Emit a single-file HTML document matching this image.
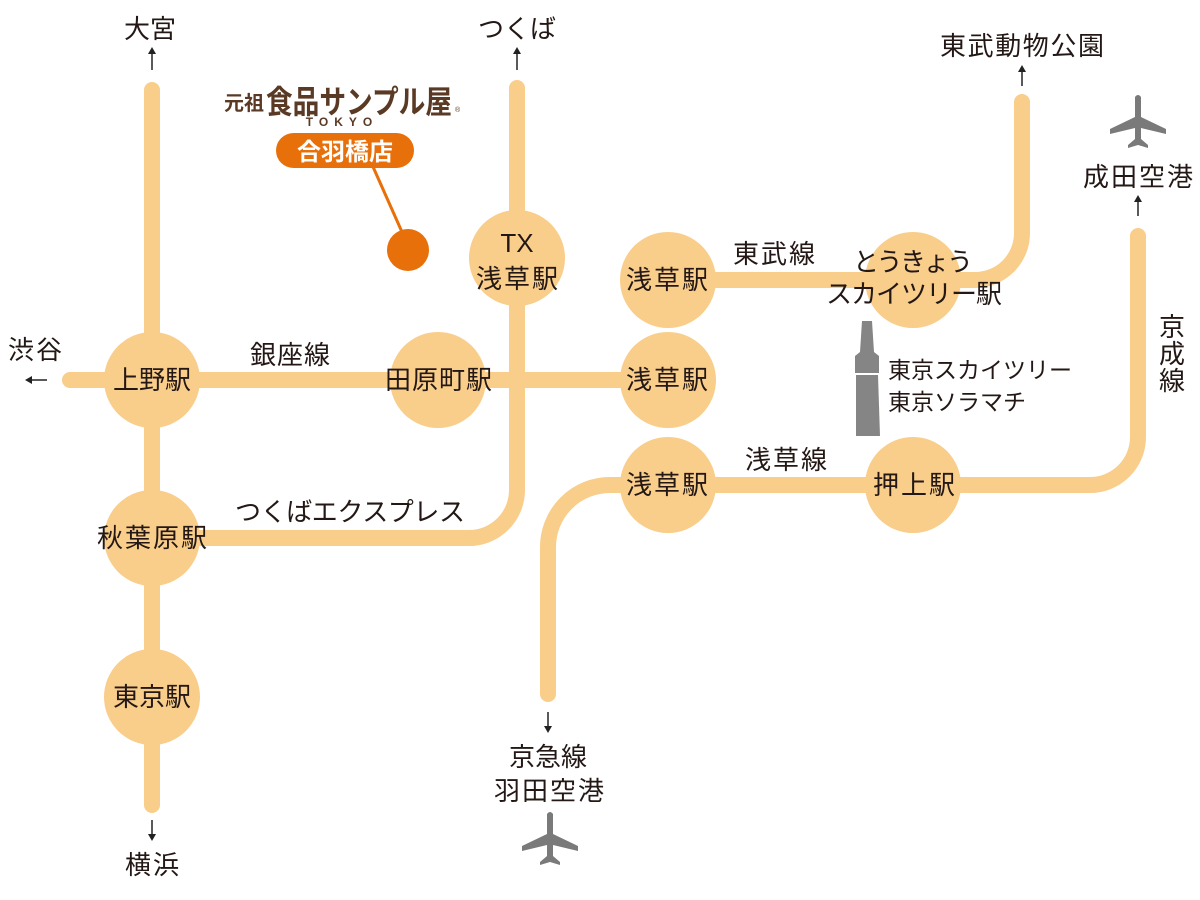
<!DOCTYPE html>
<html><head><meta charset="utf-8"><style>
html,body{margin:0;padding:0;background:#fff;}
svg{display:block;font-family:"Liberation Sans","Noto Sans CJK JP",sans-serif;}
</style></head><body>
<svg width="1200" height="900" viewBox="0 0 1200 900">
<g fill="none" stroke="#f9cd8a" stroke-width="16" stroke-linecap="round">
<line x1="152" y1="90" x2="152" y2="805"/>
<line x1="70" y1="380" x2="668" y2="380"/>
<path d="M517 88 V490 A48 48 0 0 1 469 538 H152"/>
<path d="M668 280 H975 A47 47 0 0 0 1022 233 V102"/>
<path d="M668 485 H1090 A48 48 0 0 0 1138 437 V236"/>
<path d="M668 485 H610 A62 62 0 0 0 548 547 V694"/>
</g>
<g fill="#f9cd8a">
<circle cx="152" cy="380" r="48"/><circle cx="152" cy="538" r="48"/><circle cx="152" cy="697" r="48"/>
<circle cx="438" cy="380" r="48"/><circle cx="517" cy="258" r="48"/>
<circle cx="668" cy="280" r="48"/><circle cx="668" cy="380" r="48"/><circle cx="668" cy="485" r="48"/>
<circle cx="913" cy="280" r="48"/><circle cx="913" cy="485" r="48"/>
</g>
<g stroke="#222" stroke-width="1.5" fill="#222">
<line x1="152" y1="70" x2="152" y2="52"/><path d="M148 54 L152 47 L156 54Z" stroke="none"/>
<line x1="517" y1="70" x2="517" y2="52"/><path d="M513 54 L517 47 L521 54Z" stroke="none"/>
<line x1="1022" y1="86" x2="1022" y2="70"/><path d="M1018 72 L1022 65 L1026 72Z" stroke="none"/>
<line x1="1138" y1="216" x2="1138" y2="200"/><path d="M1134 202 L1138 195 L1142 202Z" stroke="none"/>
<line x1="47" y1="380" x2="30" y2="380"/><path d="M32 376 L25 380 L32 384Z" stroke="none"/>
<line x1="152" y1="820" x2="152" y2="836"/><path d="M148 834 L152 841 L156 834Z" stroke="none"/>
<line x1="548" y1="712" x2="548" y2="728"/><path d="M544 726 L548 733 L552 726Z" stroke="none"/>
</g>
<g fill="#7a7a7a">
<g transform="translate(1138,125)"><path d="M-3 -28 Q0 -32 3 -28 L3 -8 L28 4 L28 9 L3 3 L3 14 L10 20 L10 23 L0 20 L-10 23 L-10 20 L-3 14 L-3 3 L-28 9 L-28 4 L-3 -8Z"/></g>
<g transform="translate(550,842)"><path d="M-3 -28 Q0 -32 3 -28 L3 -8 L28 4 L28 9 L3 3 L3 14 L10 20 L10 23 L0 20 L-10 23 L-10 20 L-3 14 L-3 3 L-28 9 L-28 4 L-3 -8Z"/></g>
</g>
<g fill="#858585">
<path d="M862 321 H872 L874 352 L879 356 L879 373 H855 L855 356 L860 352Z"/>
<path d="M856 375 H878 L880 436 H856Z"/>
</g>
<line x1="370" y1="160" x2="402" y2="232" stroke="#e8700a" stroke-width="3"/>
<circle cx="408" cy="250" r="21" fill="#e8700a"/>
<rect x="276" y="133" width="138" height="35" rx="17.5" fill="#e8700a"/>
<text x="345" y="160" font-size="24" fill="#fff" text-anchor="middle" font-weight="bold">合羽橋店</text>
<text x="224" y="110" font-size="20" fill="#5a3a24" font-weight="bold" textLength="40" lengthAdjust="spacingAndGlyphs">元祖</text>
<text x="266" y="113" font-size="32" fill="#5a3a24" font-weight="bold" textLength="186" lengthAdjust="spacingAndGlyphs">食品サンプル屋</text>
<text x="455" y="112" font-size="7" fill="#5a3a24">®</text>
<text x="342" y="126" font-size="12" fill="#5a3a24" font-weight="bold" text-anchor="middle" letter-spacing="6">TOKYO</text>
<g font-size="26" fill="#231815" text-anchor="middle">
<text x="152" y="389">上野駅</text>
<text x="152" y="706">東京駅</text>
<text x="517" y="252">TX</text>
<text x="548" y="766">京急線</text>
<text x="1172" y="336">京</text>
<text x="1172" y="363">成</text>
<text x="1172" y="390">線</text>
</g>
<g font-size="23" fill="#231815">
<text x="888" y="378">東京スカイツリー</text>
<text x="888" y="410">東京ソラマチ</text>
</g>
<g font-size="26" fill="#231815" lengthAdjust="spacingAndGlyphs">
<text x="97" y="547" textLength="110">秋葉原駅</text>
<text x="385" y="389" textLength="107">田原町駅</text>
<text x="476" y="288" textLength="82">浅草駅</text>
<text x="626" y="289" textLength="82">浅草駅</text>
<text x="626" y="389" textLength="82">浅草駅</text>
<text x="626" y="494" textLength="82">浅草駅</text>
<text x="853" y="271" textLength="120">とうきょう</text>
<text x="826" y="303" textLength="176">スカイツリー駅</text>
<text x="873" y="494" textLength="82">押上駅</text>
<text x="124" y="38" textLength="52">大宮</text>
<text x="478" y="38" textLength="78">つくば</text>
<text x="940" y="55" textLength="164">東武動物公園</text>
<text x="1083" y="186" textLength="110">成田空港</text>
<text x="125" y="874" textLength="54">横浜</text>
<text x="494" y="800" textLength="110">羽田空港</text>
<text x="250" y="364" textLength="80">銀座線</text>
<text x="235" y="521" textLength="230">つくばエクスプレス</text>
<text x="733" y="263" textLength="82">東武線</text>
<text x="745" y="469" textLength="82">浅草線</text>
<text x="8" y="359" textLength="54">渋谷</text>
</g>
</svg>
</body></html>
